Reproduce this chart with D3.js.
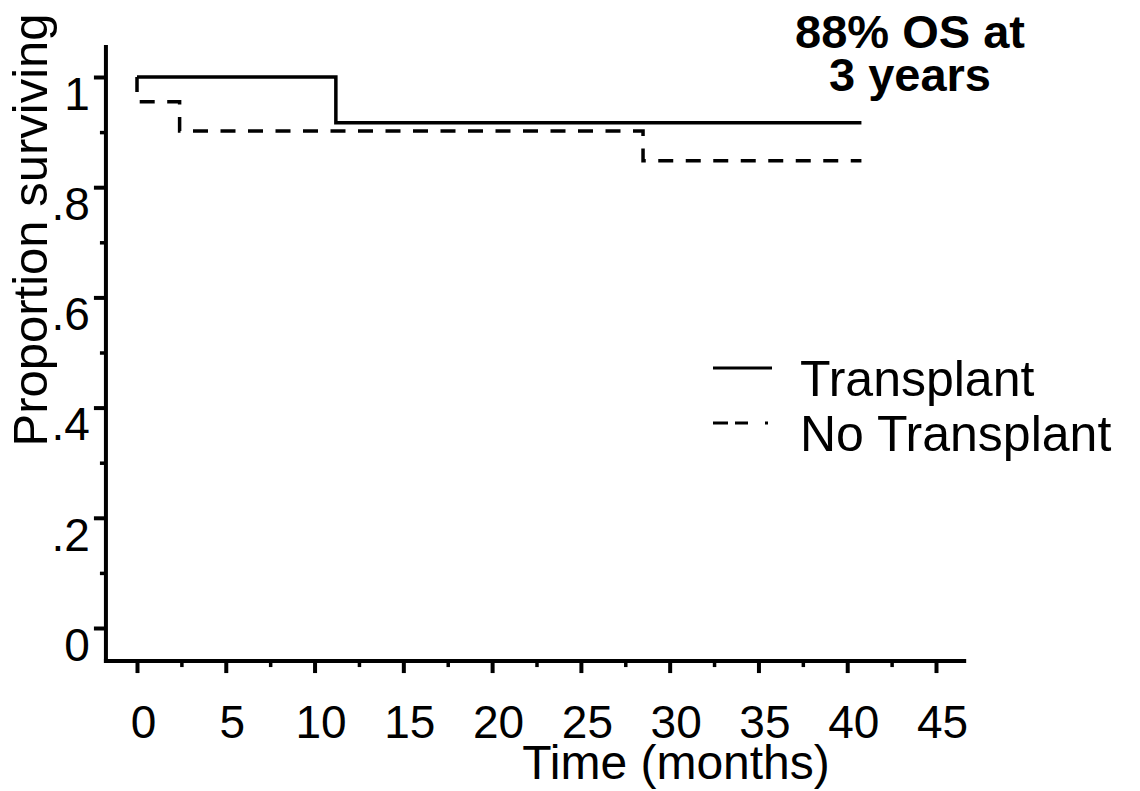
<!DOCTYPE html>
<html>
<head>
<meta charset="utf-8">
<script src="https://cdn.jsdelivr.net/npm/d3@7"></script>
<style>
  body { margin: 0; background: #fff; }
  text { font-family: "Liberation Sans", Arial, sans-serif; }
</style>
</head>
<body>
<div id="chart"></div>
<script>
// Kaplan-Meier steps
const transplantTime = [0, 11.2, 40.8];
const transplantSurv = [1, 0.917, 0.917];
const noTransplantTime = [0, 0, 2.4, 28.5, 40.8];
const noTransplantSurv = [1, 0.955, 0.902, 0.848, 0.848];

const xTicks = [0, 5, 10, 15, 20, 25, 30, 35, 40, 45];
const xMinorTicks = [2.5, 7.5, 12.5, 17.5, 22.5, 27.5, 32.5, 37.5, 42.5];
const yTicks = [0, 0.2, 0.4, 0.6, 0.8, 1];
const yTickLabels = ["0", ".2", ".4", ".6", ".8", "1"];
const yMinorTicks = [0.1, 0.3, 0.5, 0.7, 0.9];
const legendLabels = ["Transplant", "No Transplant"];
const titleLines = ["88% OS at", "3 years"];

const W = 1140, H = 791;
const svg = d3.select("#chart").append("svg")
    .attr("width", W)
    .attr("height", H);

svg.append("rect").attr("width", W).attr("height", H).attr("fill", "#fff");

const xScale = d3.scaleLinear().domain([0, 45]).range([137, 936]);
const yScale = d3.scaleLinear().domain([0, 1]).range([628, 77]);

// extent of the axis lines (a bit beyond the data range, like Stata)
const xLo = -1.75, xHi = 46.7, yLo = -0.06, yHi = 1.058;

// axis lines
svg.append("line")
    .attr("x1", xScale(xLo)).attr("x2", xScale(xLo))
    .attr("y1", yScale(yHi)).attr("y2", yScale(yLo) + 2)
    .attr("stroke", "#000").attr("stroke-width", 4);
svg.append("line")
    .attr("x1", xScale(xLo) - 2).attr("x2", xScale(xHi))
    .attr("y1", yScale(yLo)).attr("y2", yScale(yLo))
    .attr("stroke", "#000").attr("stroke-width", 4);

// y axis
const yAxis = svg.append("g")
    .attr("transform", `translate(${xScale(xLo)},0)`)
    .call(d3.axisLeft(yScale).tickValues(yTicks)
        .tickFormat((d, i) => yTickLabels[i])
        .tickSize(12).tickPadding(4));
yAxis.select(".domain").remove();
yAxis.selectAll(".tick line").attr("stroke-width", 4);
yAxis.selectAll(".tick text")
    .attr("dy", "0.7em")
    .style("font-size", "46px")
    .attr("fill", "#000");

const yMinor = svg.append("g")
    .attr("transform", `translate(${xScale(xLo)},0)`)
    .call(d3.axisLeft(yScale).tickValues(yMinorTicks).tickFormat("").tickSize(6));
yMinor.select(".domain").remove();
yMinor.selectAll(".tick line").attr("stroke-width", 3.5);

// x axis
const xAxis = svg.append("g")
    .attr("transform", `translate(0,${yScale(yLo)})`)
    .call(d3.axisBottom(xScale).tickValues(xTicks)
        .tickSize(12).tickPadding(32));
xAxis.select(".domain").remove();
xAxis.selectAll(".tick line").attr("stroke-width", 4);
xAxis.selectAll(".tick text")
    .attr("dx", 6)
    .style("font-size", "46px")
    .attr("fill", "#000");

const xMinor = svg.append("g")
    .attr("transform", `translate(0,${yScale(yLo)})`)
    .call(d3.axisBottom(xScale).tickValues(xMinorTicks).tickFormat("").tickSize(6));
xMinor.select(".domain").remove();
xMinor.selectAll(".tick line").attr("stroke-width", 3.5);

// axis titles
svg.append("text")
    .attr("text-anchor", "middle")
    .attr("transform", `translate(47,${230}) rotate(-90)`)
    .style("font-size", "49px")
    .text("Proportion surviving");

svg.append("text")
    .attr("text-anchor", "middle")
    .attr("x", 676)
    .attr("y", 779)
    .style("font-size", "48px")
    .text("Time (months)");

// survival curves
const step = d3.line()
    .x(d => xScale(d[0]))
    .y(d => yScale(d[1]))
    .curve(d3.curveStepAfter);

svg.append("path")
    .datum(d3.zip(transplantTime, transplantSurv))
    .attr("d", step)
    .attr("fill", "none")
    .attr("stroke", "#000")
    .attr("stroke-width", 3.5);

svg.append("path")
    .datum(d3.zip(noTransplantTime, noTransplantSurv))
    .attr("d", step)
    .attr("fill", "none")
    .attr("stroke", "#000")
    .attr("stroke-width", 3.5)
    .attr("stroke-dasharray", "15,12.5");

// legend
const legend = svg.append("g");
const legendY = [368, 423];
const legendDash = [null, "15,7,13,17,3,100"];
legendLabels.forEach((lab, i) => {
    legend.append("line")
        .attr("x1", 713).attr("x2", 772)
        .attr("y1", legendY[i]).attr("y2", legendY[i])
        .attr("stroke", "#000")
        .attr("stroke-width", 3)
        .attr("stroke-dasharray", legendDash[i]);
    legend.append("text")
        .attr("x", 800)
        .attr("y", legendY[i] + 28)
        .style("font-size", "50px")
        .text(lab);
});

// title
svg.append("text")
    .attr("text-anchor", "middle")
    .style("font-size", "47px")
    .style("font-weight", "bold")
    .selectAll("tspan")
    .data(titleLines)
    .join("tspan")
    .attr("x", 910)
    .attr("y", (d, i) => 48 + i * 43)
    .text(d => d);
</script>
</body>
</html>
